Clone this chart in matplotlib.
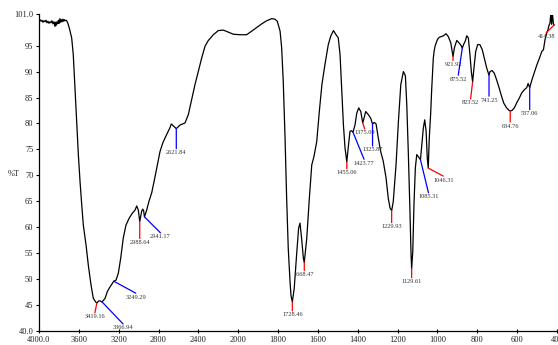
import numpy as np
import matplotlib
matplotlib.use("Agg")
import matplotlib.pyplot as plt

# ---------------- data ----------------
wavenumber = [
    4000, 3990, 3980, 3970, 3960, 3950, 3940, 3930, 3920, 3910, 3900, 3890, 3880,
    3870, 3860, 3850, 3840, 3835, 3828, 3820, 3812, 3805, 3798, 3790, 3782, 3775,
    3768, 3760, 3752, 3745, 3738, 3730, 3722, 3710, 3696, 3672, 3656, 3639, 3622,
    3605, 3588, 3571, 3555, 3528, 3505, 3478, 3455, 3431, 3419.16, 3400, 3388,
    3366.94, 3337, 3314, 3287, 3249.29, 3227, 3204, 3180, 3154, 3127, 3096, 3063,
    3036, 3019, 3003, 2988.64, 2969, 2959, 2950, 2941.17, 2919, 2896, 2869, 2845,
    2818, 2785, 2758, 2735, 2712, 2685, 2672, 2645, 2621.84, 2601, 2584, 2534,
    2501, 2467, 2434, 2401, 2367, 2333, 2300, 2250, 2200, 2150, 2099, 2049,
    1991, 1958, 1932, 1907, 1882, 1857, 1832, 1816, 1804, 1790, 1782, 1774, 1765,
    1757, 1749, 1740, 1735, 1728.46, 1719, 1707, 1697, 1690, 1682, 1673, 1668.47,
    1656, 1643, 1631, 1620, 1606, 1593, 1580, 1565, 1548, 1536, 1522, 1509, 1498,
    1489, 1481, 1472, 1464, 1455.06, 1448, 1439, 1431, 1423.77, 1414, 1405, 1395,
    1385, 1375.09, 1369, 1360, 1347, 1335, 1325.87, 1317, 1308, 1297, 1285, 1272,
    1258, 1247, 1238, 1229.93, 1222, 1208, 1196, 1184, 1171, 1161, 1154, 1146,
    1138, 1133, 1129.61, 1124, 1118, 1111, 1104, 1094, 1085.31, 1080, 1071, 1064,
    1057, 1051, 1046.31, 1041, 1034, 1029, 1021, 1017, 1012, 1004, 1000, 991,
    970, 957, 945, 933, 921.92, 915, 903, 891, 881, 875.52, 868, 860, 853, 845,
    837, 830, 823.52, 817, 808, 798, 787, 775, 765, 753, 741.25, 736, 726, 715,
    703, 690, 678, 667, 653, 640, 634.76, 626, 614, 602, 589, 577, 564, 552, 545,
    537.06, 526, 515, 501, 488, 476, 468, 460, 451, 446, 440, 435, 431, 427, 423,
    418, 414.38,
]
transmittance = [
    99.6, 100.0, 99.7, 99.9, 99.5, 99.8, 99.6, 99.9, 99.4, 99.7, 99.3, 99.6, 99.4,
    99.8, 99.2, 99.6, 98.7, 99.5, 98.9, 99.6, 99.2, 99.9, 99.3, 100.2, 99.5, 100.0,
    99.6, 100.1, 99.7, 100.0, 99.8, 99.9, 99.8, 99.3, 98.4, 96.5, 93.3, 86.8, 80.4,
    74.0, 68.8, 64.3, 60.4, 56.6, 52.7, 48.9, 46.3, 45.6, 45.4, 45.8, 45.8,
    45.6, 46.3, 47.6, 48.5, 49.6, 49.8, 51.1, 54.0, 57.9, 60.4, 61.7, 62.7,
    63.3, 64.1, 63.3, 61.1, 63.1, 63.5, 63.2, 62.0, 63.3, 65.0, 66.6, 68.8,
    71.4, 74.6, 76.2, 77.2, 78.1, 79.2, 79.9, 79.4, 79.0, 79.4, 79.7, 80.1,
    81.7, 84.6, 87.5, 90.0, 92.6, 94.9, 96.0, 97.1, 97.9, 98.0, 97.6, 97.2,
    97.1, 97.1, 97.8, 98.5, 99.2, 99.8, 100.2, 100.1, 99.7, 97.8, 94.6, 88.1, 77.2,
    65.6, 56.0, 49.5, 46.8, 45.6, 48.2, 54.7, 59.8, 60.8, 57.9, 54.0, 53.2,
    57.9, 65.6, 72.0, 73.6, 76.5, 82.3, 87.5, 91.3, 95.2, 96.8, 97.9, 97.1, 96.5,
    93.3, 86.8, 79.7, 75.3, 72.6, 75.3, 78.5, 78.6, 78.3, 79.7, 82.0, 83.0,
    82.3, 80.1, 81.0, 82.3, 81.7, 81.0, 79.9, 80.2, 79.9, 77.2, 74.6, 72.7,
    69.5, 65.6, 63.7, 63.2, 64.9, 72.0, 80.4, 87.5, 90.0, 89.2, 83.6, 74.0,
    63.0, 55.3, 52.0, 55.3, 64.3, 71.4, 74.0, 73.5, 73.0, 75.3, 79.1, 80.7,
    78.5, 73.3, 71.4, 77.2, 82.0, 86.5, 92.5, 93.9, 94.9, 95.8, 96.2, 96.6,
    96.9, 97.3, 96.7, 95.5, 92.9, 94.6, 96.0, 95.5, 95.0, 94.5, 95.3, 95.9, 96.9, 96.5,
    93.3, 90.0, 88.0, 90.6, 93.9, 95.2, 95.2, 94.2, 92.6, 90.7, 89.3, 90.0, 90.2, 89.7,
    88.4, 86.8, 85.2, 83.9, 83.0, 82.5, 82.4, 82.5, 83.0, 84.0, 84.9, 85.9, 86.5, 86.9, 87.7,
    86.9, 88.4, 89.7, 91.3, 92.6, 93.9, 94.2, 96.2, 97.5, 98.0, 98.9, 99.4, 101.3, 99.1, 101.3,
    99.2, 99.0,
]

peak_labels = ["3419.16", "3366.94", "3249.29", "2988.64", "2941.17", "2621.84",
               "1728.46", "1668.47", "1455.06", "1423.77", "1375.09", "1325.87",
               "1229.93", "1129.61", "1085.31", "1046.31", "921.92", "875.52",
               "823.52", "741.25", "634.76", "537.06", "414.38"]
peak_positions = [3419.16, 3366.94, 3249.29, 2988.64, 2941.17, 2621.84,
                  1728.46, 1668.47, 1455.06, 1423.77, 1375.09, 1325.87,
                  1229.93, 1129.61, 1085.31, 1046.31, 921.92, 875.52,
                  823.52, 741.25, 634.76, 537.06, 414.38]

x_ticks = [4000, 3600, 3200, 2800, 2400, 2000, 1800, 1600, 1400, 1200, 1000, 800, 600, 400]
x_tick_labels = ["4000.0", "3600", "3200", "2800", "2400", "2000", "1800", "1600",
                 "1400", "1200", "1000", "800", "600", "400"]
y_ticks = [40, 45, 50, 55, 60, 65, 70, 75, 80, 85, 90, 95, 101]
y_tick_labels = ["40.0", "45", "50", "55", "60", "65", "70", "75", "80", "85",
                 "90", "95", "101.0"]

# ---------------- style (leader-line colours and offsets in pixels) ----------------
RED, BLUE = "#ff0000", "#0000ff"
peak_colors = [RED, BLUE, BLUE, RED, BLUE, BLUE, RED, RED, RED, BLUE, RED, BLUE,
               RED, RED, BLUE, RED, RED, BLUE, RED, BLUE, RED, BLUE, RED]
leader_offsets = [(-2, -10), (21, -22), (22, -12), (0, -17), (16, -16), (0, -20),
                  (0, -9), (0, -8), (0, -7), (11, -27), (2, -6), (0, -22),
                  (0, -12), (0, -9), (8, -33), (15, -8), (0, -4), (-4, -27),
                  (-2, -17), (0, -21), (0, -11), (0, -22), (-8, -8)]

SERIF = ["Liberation Serif", "DejaVu Serif"]


# Piecewise wavenumber axis: 400 cm-1 per division above 2000, 200 cm-1 below.
# Forward is increasing in w (negative division count); axis is then inverted.
def fwd(w):
    w = np.asarray(w, dtype=float)
    return -np.where(w >= 2000, (4000 - w) / 400.0, 5 + (2000 - w) / 200.0)


def inv(u):
    k = -np.asarray(u, dtype=float)
    return np.where(k <= 5, 4000 - 400.0 * k, 2000 - 200.0 * (k - 5))


fig = plt.figure(figsize=(5.58, 3.45), dpi=100)
ax = fig.add_axes([39 / 558, 14 / 345, 518 / 558, 316.5 / 345])
ax.set_xscale("function", functions=(fwd, inv))

ax.plot(wavenumber, transmittance, color="black", lw=0.9, solid_joinstyle="round")
ax.set_xlim(4000, 400)
ax.set_ylim(40, 101)

for s in ("top", "right"):
    ax.spines[s].set_visible(False)
for s in ("left", "bottom"):
    ax.spines[s].set_linewidth(0.9)

ax.xaxis.set_minor_locator(matplotlib.ticker.NullLocator())
ax.set_xticks(x_ticks)
ax.set_xticklabels(x_tick_labels, fontfamily=SERIF, fontsize=6, color="#222222")
ax.set_yticks(y_ticks)
ax.set_yticklabels(y_tick_labels, fontfamily=SERIF, fontsize=6, color="#222222")
ax.tick_params(axis="x", direction="inout", length=3, width=0.8, pad=2)
ax.tick_params(axis="y", direction="out", length=2, width=0.8, pad=2)

ax.set_ylabel("%T", rotation=0, fontfamily=SERIF, fontsize=6, color="#222222")
ax.yaxis.set_label_coords(-0.048, 0.484)

wn_inc = np.asarray(wavenumber)[::-1]
tr_inc = np.asarray(transmittance)[::-1]
for lab, w, c, (dx, dy) in zip(peak_labels, peak_positions, peak_colors, leader_offsets):
    t = float(np.interp(w, wn_inc, tr_inc))
    ax.annotate("", xy=(w, t), xytext=(dx, dy), textcoords="offset pixels",
                arrowprops=dict(arrowstyle="-", color=c, lw=0.9,
                                shrinkA=0, shrinkB=0))
    ax.annotate(lab, xy=(w, t), xytext=(dx, dy - 1.5), textcoords="offset pixels",
                ha="center", va="top", fontsize=4.6, fontfamily=SERIF,
                color="#333333", annotation_clip=False)

fig.savefig("out.png", dpi=100)
